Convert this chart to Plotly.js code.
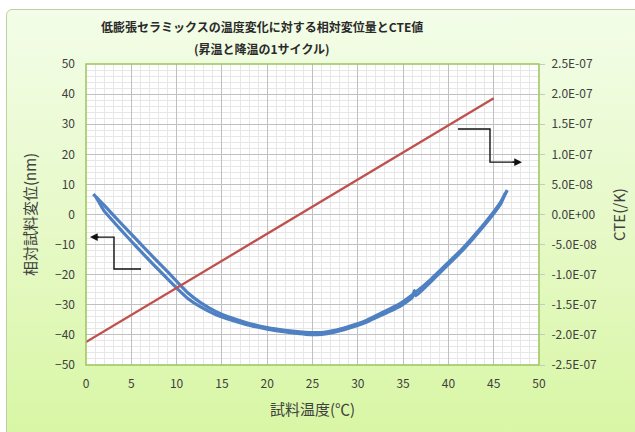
<!DOCTYPE html>
<html>
<head>
<meta charset="utf-8">
<script src="https://cdn.plot.ly/plotly-3.0.1.min.js"></script>
<style>
html,body{margin:0;padding:0;width:635px;height:432px;overflow:hidden;background:#fff;}
#box{position:absolute;left:6px;top:9px;width:650px;height:450px;border:1px solid #bcd0a4;border-radius:6px;
background:linear-gradient(to bottom,#f3fde8 0%,#e6f9c6 50%,#d6f6a0 100%);}
#chart{position:absolute;left:0;top:0;width:635px;height:432px;}
</style>
</head>
<body>
<div id="box"></div>
<div id="chart"></div>
<script>
// Temperature (°C) and relative displacement (nm), heating branch
const tempUp = [0.8, 2, 3.7, 5.5, 7.5, 9, 10.1, 11.2, 12.6, 14.3, 16.2, 18, 20, 22, 23.6, 24.7, 26, 27.3, 29, 31, 32.5, 34.7, 36.1, 38, 40, 41.5, 42.7, 44, 44.9, 45.8, 46.5];
const dispUp = [6.8, 3.1, -2.4, -8.1, -14.4, -19.0, -22.5, -25.9, -29.2, -32.2, -34.5, -36.2, -37.6, -38.5, -39.0, -39.2, -39.2, -38.6, -37.2, -35.1, -32.9, -29.5, -26.5, -21.7, -15.9, -11.5, -7.5, -2.9, 0.5, 4.3, 8.1];
// cooling branch
const tempDown = [1.1, 2, 3.7, 5.5, 7.5, 9, 10.1, 11.2, 12.6, 14.3, 16.2, 18, 20, 22, 23.6, 24.7, 26, 27.3, 29, 31, 32.5, 34.7, 36.0, 36.25, 36.4, 38, 40, 41.5, 42.7, 44, 44.9, 45.8, 46.3];
const dispDown = [5.8, 1.2, -4.6, -10.5, -16.8, -21.4, -24.7, -27.8, -30.6, -33.2, -35.2, -36.8, -38.1, -39.0, -39.6, -39.9, -39.8, -39.2, -37.8, -35.7, -33.6, -30.4, -27.6, -25.3, -27.0, -22.5, -16.6, -12.1, -8.1, -3.5, -0.1, 3.7, 7.2];
// CTE values (/K)
const tempCte = [0, 5, 10, 15, 20, 25, 30, 35, 40, 45];
const cteVals = [-2.12e-7, -1.67e-7, -1.22e-7, -0.77e-7, -0.32e-7, 0.13e-7, 0.58e-7, 1.03e-7, 1.48e-7, 1.93e-7];
// right axis tick labels
const cteTickVals = [2.5e-7, 2.0e-7, 1.5e-7, 1.0e-7, 5.0e-8, 0, -5.0e-8, -1.0e-7, -1.5e-7, -2.0e-7, -2.5e-7];
const cteTickText = ["2.5E-07", "2.0E-07", "1.5E-07", "1.0E-07", "5.0E-08", "0.0E+00", "-5.0E-08", "-1.0E-07", "-1.5E-07", "-2.0E-07", "-2.5E-07"];

const FONT = '"Noto Sans CJK JP", "Noto Sans", sans-serif';
const BLUE = '#4f81c2';
const RED = '#c0504d';

const traces = [
  {x: tempUp, y: dispUp, type: 'scatter', mode: 'lines', line: {color: BLUE, width: 3.2, shape: 'spline', smoothing: 0.6}, xaxis: 'x', yaxis: 'y', hoverinfo: 'skip'},
  {x: tempDown, y: dispDown, type: 'scatter', mode: 'lines', line: {color: BLUE, width: 3.2, shape: 'spline', smoothing: 0.4}, xaxis: 'x', yaxis: 'y', hoverinfo: 'skip'},
  {x: tempCte, y: cteVals, type: 'scatter', mode: 'lines', line: {color: RED, width: 2.3}, xaxis: 'x', yaxis: 'y2', hoverinfo: 'skip'}
];

const arrowLine = {color: '#111', width: 1.4};
const layout = {
  width: 635, height: 432,
  margin: {l: 86, r: 96, t: 64, b: 67},
  paper_bgcolor: 'rgba(0,0,0,0)',
  plot_bgcolor: '#ffffff',
  showlegend: false,
  font: {family: FONT, color: '#404040', size: 12},
  title: {text: '<b>低膨張セラミックスの温度変化に対する相対変位量とCTE値</b>',
          font: {family: FONT, size: 12, color: '#2a2a2a'}, xref: 'paper', x: 0.389, xanchor: 'center',
          yref: 'container', y: 0.935, yanchor: 'middle'},
  xaxis: {range: [0, 50], dtick: 5, tick0: 0, showgrid: true, gridcolor: '#c0c0c0', gridwidth: 1,
          minor: {dtick: 1, showgrid: true, gridcolor: '#e7e7e7', gridwidth: 1},
          zeroline: false, showline: false, ticks: '', ticklabelstandoff: 10,
          tickfont: {family: FONT, size: 12, color: '#404040'},
          title: {text: '試料温度(℃)', font: {family: FONT, size: 15, color: '#404040'}, standoff: 14}},
  yaxis: {range: [-50, 50], dtick: 10, tick0: 0, showgrid: true, gridcolor: '#c0c0c0', gridwidth: 1,
          minor: {dtick: 2, showgrid: true, gridcolor: '#e7e7e7', gridwidth: 1},
          zeroline: false, showline: false, ticks: '', ticklabelstandoff: 10,
          tickfont: {family: FONT, size: 12, color: '#404040'},
          title: {text: '相対試料変位(nm)', font: {family: FONT, size: 15, color: '#404040'}, standoff: 14}},
  yaxis2: {range: [-2.5e-7, 2.5e-7], overlaying: 'y', side: 'right', showgrid: false, zeroline: false,
           tickvals: cteTickVals, ticktext: cteTickText, ticks: 'outside', ticklen: 5, tickcolor: '#c8c8c8',
           ticklabelstandoff: 4,
           showline: false, tickfont: {family: FONT, size: 12, color: '#404040'},
           title: {text: 'CTE(/K)', font: {family: FONT, size: 15, color: '#404040'}, standoff: 18}},
  shapes: [
    {type: 'rect', xref: 'paper', yref: 'paper', x0: 0, x1: 1, y0: 0, y1: 1, line: {color: '#9bc45a', width: 1.5}},
    {type: 'path', xref: 'x', yref: 'y', path: 'M 6.07 -18.1 L 3.09 -18.1 L 3.09 -7.5 L 0.9 -7.5', line: arrowLine},
    {type: 'path', xref: 'x', yref: 'y', path: 'M 41.06 28.4 L 44.59 28.4 L 44.59 17.4 L 47.6 17.4', line: arrowLine}
  ],
  annotations: [
    {text: '<b>(昇温と降温の1サイクル)</b>', xref: 'paper', yref: 'paper', x: 0.389, y: 1.053,
     xanchor: 'center', yanchor: 'middle', showarrow: false, font: {family: FONT, size: 12, color: '#2a2a2a'}},
    {x: 0.44, y: -7.5, xref: 'x', yref: 'y', ax: 1.6, ay: -7.5, axref: 'x', ayref: 'y', text: '', showarrow: true,
     arrowhead: 2, arrowsize: 1.1, arrowwidth: 1.4, arrowcolor: '#111'},
    {x: 48.12, y: 17.4, xref: 'x', yref: 'y', ax: 46.9, ay: 17.4, axref: 'x', ayref: 'y', text: '', showarrow: true,
     arrowhead: 2, arrowsize: 1.1, arrowwidth: 1.4, arrowcolor: '#111'}
  ]
};

Plotly.newPlot('chart', traces, layout, {staticPlot: true, displayModeBar: false});
</script>
</body>
</html>
